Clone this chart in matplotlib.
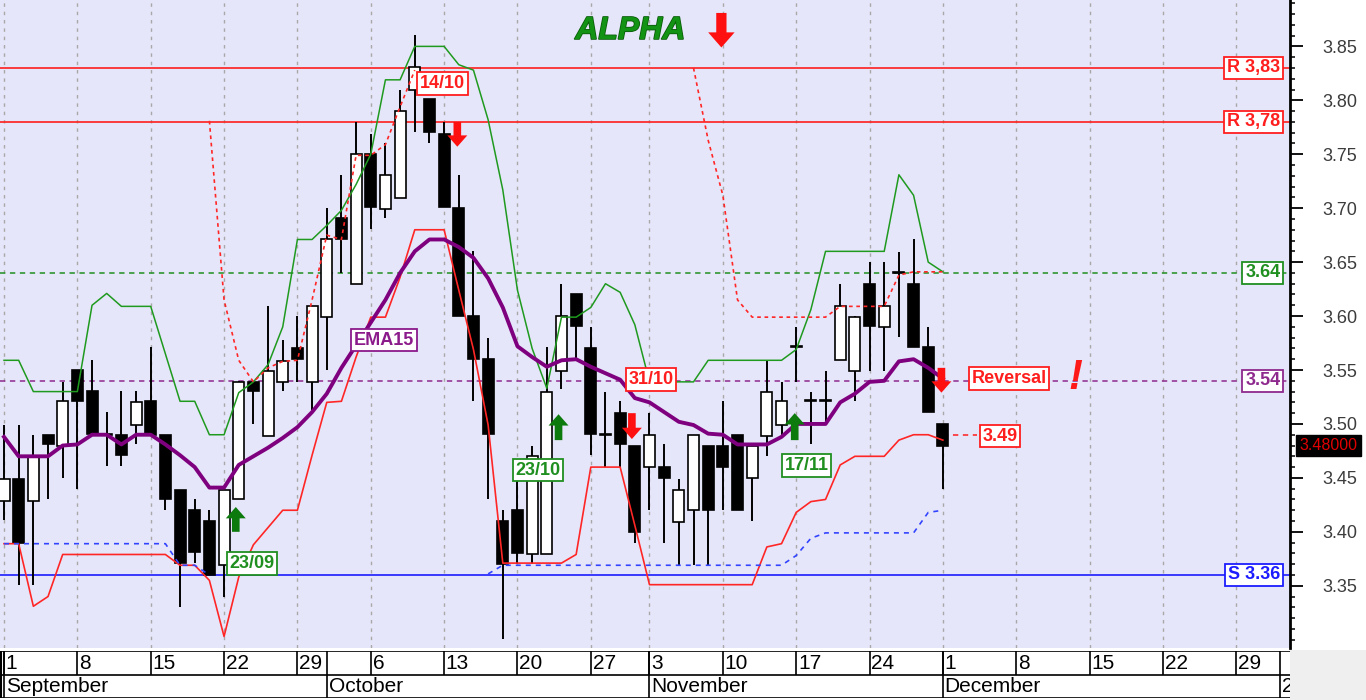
import numpy as np
import pandas as pd
import matplotlib
matplotlib.use('Agg')
import matplotlib.pyplot as plt
import matplotlib.patheffects as pe
from matplotlib.patches import FancyArrow, Rectangle
from matplotlib.ticker import FixedLocator

plt.rcParams['font.family'] = ['Liberation Sans', 'DejaVu Sans']

# trading days on the chart (no bar on 31 Oct), axis runs on into January
dates = pd.bdate_range('2014-09-01', '2014-12-01').drop(pd.Timestamp('2014-10-31'))
axis_days = pd.bdate_range('2014-09-01', '2015-01-01').drop(pd.Timestamp('2014-10-31'))

opens = [3.429, 3.449, 3.429, 3.490, 3.480, 3.550, 3.531, 3.491, 3.490, 3.499,
         3.521, 3.490, 3.439, 3.420, 3.410, 3.369, 3.430, 3.539, 3.489, 3.539,
         3.570, 3.539, 3.599, 3.691, 3.630, 3.750, 3.699, 3.709, 3.810, 3.801,
         3.769, 3.700, 3.600, 3.560, 3.410, 3.420, 3.379, 3.379, 3.549, 3.620,
         3.570, 3.491, 3.510, 3.480, 3.460, 3.460, 3.409, 3.420, 3.480, 3.480,
         3.490, 3.450, 3.489, 3.499, 3.572, 3.522, 3.522, 3.559, 3.549, 3.630,
         3.590, 3.641, 3.630, 3.571, 3.500]
highs = [3.499, 3.499, 3.490, 3.490, 3.539, 3.550, 3.559, 3.511, 3.531, 3.531,
         3.571, 3.490, 3.439, 3.430, 3.420, 3.439, 3.540, 3.540, 3.609, 3.578,
         3.600, 3.609, 3.700, 3.731, 3.780, 3.769, 3.760, 3.810, 3.861, 3.801,
         3.780, 3.731, 3.660, 3.580, 3.420, 3.456, 3.480, 3.571, 3.630, 3.620,
         3.590, 3.530, 3.521, 3.480, 3.510, 3.481, 3.449, 3.490, 3.480, 3.521,
         3.490, 3.480, 3.559, 3.539, 3.590, 3.530, 3.549, 3.630, 3.600, 3.650,
         3.650, 3.659, 3.671, 3.590, 3.500]
lows = [3.411, 3.351, 3.351, 3.430, 3.450, 3.440, 3.491, 3.461, 3.461, 3.481,
        3.490, 3.420, 3.330, 3.371, 3.360, 3.340, 3.430, 3.500, 3.489, 3.531,
        3.539, 3.513, 3.550, 3.640, 3.630, 3.681, 3.691, 3.709, 3.771, 3.760,
        3.701, 3.600, 3.521, 3.430, 3.301, 3.370, 3.370, 3.379, 3.532, 3.559,
        3.471, 3.460, 3.460, 3.390, 3.420, 3.390, 3.369, 3.369, 3.369, 3.420,
        3.420, 3.410, 3.470, 3.489, 3.539, 3.481, 3.499, 3.559, 3.521, 3.549,
        3.549, 3.581, 3.571, 3.511, 3.440]
closes = [3.449, 3.390, 3.470, 3.481, 3.521, 3.521, 3.491, 3.490, 3.471, 3.520,
          3.490, 3.430, 3.371, 3.381, 3.360, 3.439, 3.539, 3.531, 3.549, 3.558,
          3.560, 3.609, 3.671, 3.671, 3.750, 3.701, 3.731, 3.790, 3.831, 3.771,
          3.701, 3.600, 3.560, 3.491, 3.370, 3.380, 3.470, 3.530, 3.600, 3.591,
          3.491, 3.490, 3.481, 3.400, 3.490, 3.450, 3.439, 3.490, 3.420, 3.460,
          3.420, 3.480, 3.530, 3.521, 3.571, 3.521, 3.521, 3.609, 3.599, 3.591,
          3.609, 3.640, 3.571, 3.511, 3.480]

ema15 = [3.488, 3.470, 3.470, 3.470, 3.480, 3.481, 3.490, 3.490, 3.481, 3.490,
         3.490, 3.481, 3.471, 3.460, 3.441, 3.441, 3.462, 3.470, 3.478, 3.487,
         3.497, 3.511, 3.528, 3.552, 3.573, 3.594, 3.615, 3.640, 3.660, 3.671,
         3.671, 3.664, 3.654, 3.635, 3.608, 3.572, 3.562, 3.553, 3.559, 3.560,
         3.553, 3.547, 3.541, 3.524, 3.520, 3.511, 3.502, 3.499, 3.491, 3.490,
         3.481, 3.481, 3.481, 3.488, 3.500, 3.500, 3.500, 3.520, 3.528, 3.539,
         3.540, 3.558, 3.560, 3.552, 3.542]
upper_band = [3.559, 3.559, 3.530, 3.530, 3.530, 3.530, 3.610, 3.621, 3.609, 3.609,
              3.609, 3.565, 3.521, 3.521, 3.490, 3.490, 3.529, 3.539, 3.555, 3.590,
              3.671, 3.671, 3.684, 3.698, 3.722, 3.750, 3.819, 3.819, 3.850, 3.850,
              3.850, 3.833, 3.828, 3.782, 3.717, 3.624, 3.570, 3.533, 3.599, 3.599,
              3.608, 3.630, 3.622, 3.592, 3.539, 3.539, 3.539, 3.539, 3.559, 3.559,
              3.559, 3.559, 3.559, 3.559, 3.569, 3.606, 3.660, 3.660, 3.660, 3.660,
              3.660, 3.731, 3.712, 3.650, 3.641]
lower_band = [3.389, 3.389, 3.331, 3.340, 3.379, 3.379, 3.379, 3.379, 3.379, 3.379,
              3.379, 3.379, 3.369, 3.369, 3.355, 3.303, 3.358, 3.388, 3.404, 3.420,
              3.420, 3.471, 3.520, 3.521, 3.562, 3.599, 3.599, 3.636, 3.680, 3.680,
              3.680, 3.624, 3.569, 3.499, 3.371, 3.371, 3.371, 3.371, 3.371, 3.379,
              3.460, 3.460, 3.460, 3.406, 3.351, 3.351, 3.351, 3.351, 3.351, 3.351,
              3.351, 3.351, 3.386, 3.389, 3.418, 3.428, 3.430, 3.462, 3.470, 3.470,
              3.470, 3.485, 3.490, 3.490, 3.485]
N = None
stop_upper = [N] * 14 + [3.781, 3.615, 3.559, 3.539, 3.552, 3.558, 3.559, 3.615, 3.675,
                         3.671, 3.749, 3.749, 3.759, 3.794, 3.828] + [N] * 18 + \
             [3.830, 3.763, 3.712, 3.615, 3.599, 3.599, 3.599, 3.599, 3.599, 3.599,
              3.609, 3.609, 3.609, 3.609, 3.638, 3.641, 3.641, 3.641]
stop_lower = [3.389] * 12 + [3.369, 3.369, 3.360] + [N] * 18 + [3.361] + [3.369] * 20 + \
             [3.378, 3.394, 3.399, 3.399, 3.399, 3.399, 3.399, 3.399, 3.399, 3.418, 3.420]

levels_right = [('R 3,83', 3.83, '#ff1e1e', '-'), ('R 3,78', 3.78, '#ff1e1e', '-'),
                ('3.64', 3.64, '#1f8f1f', '--'), ('3.54', 3.54, '#8e2a8e', '--'),
                ('S 3.36', 3.36, '#1c1cff', '-')]
last_close = 3.48

x = np.arange(len(dates))
o, h, l, c = map(np.array, (opens, highs, lows, closes))
su = np.array(stop_upper, dtype=float)
sl = np.array(stop_lower, dtype=float)

fig = plt.figure(figsize=(13.66, 7.0), dpi=100)
fig.patches.append(Rectangle((1290 / 1366, 0), 76 / 1366, 50 / 700, transform=fig.transFigure,
                             fc='#efefef', ec='none'))
ax = fig.add_axes([0, 52 / 700, 1290 / 1366, 648 / 700])
ax.set_facecolor('#e6e6fa')
ax.set_xlim(-0.273, 87.66)
ax.set_ylim(3.2923, 3.893)

# weekly grid
week_idx = [i for i, d in enumerate(axis_days) if d.weekday() == 0]
for i in week_idx:
    ax.axvline(i, color='#a8a8a8', lw=1, ls=(0, (2.5, 3.5)), zorder=0)

# level lines
for txt, v, col, ls in levels_right:
    ax.axhline(v, color=col, lw=1.2 if ls == '-' else 1.1, ls=ls if ls == '-' else (0, (3.5, 3)), zorder=1)
    ax.text(87.0, v, txt, color=col, fontsize=13, fontweight='bold', ha='right', va='center', zorder=8,
            bbox=dict(boxstyle='square,pad=0.15', fc='white', ec=col, lw=1.3))
ax.plot([x[-1], 66.3], [3.49, 3.49], color='#ff1e1e', lw=1.1, ls=(0, (3.5, 3)), zorder=1)

# candles
ax.vlines(x, l, h, color='black', lw=1.4, zorder=2)
up = c >= o
ax.bar(x, np.abs(c - o), bottom=np.minimum(o, c), width=0.75,
       color=np.where(up, 'white', 'black'), edgecolor='black', lw=1.2, zorder=3)

# indicators
ax.plot(x, upper_band, color='#1f9a1f', lw=1.1, zorder=4)
ax.plot(x, lower_band, color='#ff2626', lw=1.2, zorder=4)
ax.plot(x, su, color='#ff2626', lw=1.2, ls=(0, (2.2, 2.2)), zorder=4)
ax.plot(x, sl, color='#3344ff', lw=1.2, ls=(0, (3, 3)), zorder=4)
ax.plot(x, ema15, color='#7f007f', lw=2.8, zorder=5, solid_joinstyle='round')


def box_label(xi, v, txt, col, size=13):
    ax.text(xi, v, txt, color=col, fontsize=size, fontweight='bold', ha='center', va='center', zorder=8,
            bbox=dict(boxstyle='square,pad=0.15', fc='white', ec=col, lw=1.3))


def arrow(xi, y0, y1, col, big=False):
    hw, w, hl = (1.8, 0.7, 0.014) if big else (1.36, 0.52, 0.0105)
    ax.add_patch(FancyArrow(xi, y0, 0, y1 - y0, width=w, head_width=hw, head_length=hl,
                            length_includes_head=True, color=col, lw=0, zorder=7))


box_label(29.9, 3.8156, '14/10', '#ff1e1e')
box_label(25.9, 3.5778, 'EMA15', '#8b1a8b')
box_label(16.9, 3.3707, '23/09', '#1f8f1f')
box_label(36.4, 3.4573, '23/10', '#1f8f1f')
box_label(44.1, 3.5412, '31/10', '#ff1e1e')
box_label(54.7, 3.4615, '17/11', '#1f8f1f')
box_label(68.5, 3.5422, 'Reversal', '#ff1e1e')
box_label(67.9, 3.4888, '3.49', '#ff1e1e')

arrow(48.9, 3.881, 3.849, '#ff1010', big=True)
arrow(30.9, 3.780, 3.757, '#ff1010')
arrow(42.8, 3.510, 3.486, '#ff1010')
arrow(63.9, 3.552, 3.529, '#ff1010')
arrow(15.8, 3.400, 3.423, '#0d7a0d')
arrow(37.8, 3.485, 3.509, '#0d7a0d')
arrow(53.9, 3.485, 3.510, '#0d7a0d')

ax.text(42.7, 3.8643, 'ALPHA', fontsize=23, fontweight='bold', fontstyle='italic', color='#139313',
        ha='center', va='center', zorder=8,
        path_effects=[pe.withStroke(linewidth=1.2, foreground='#0a5c0a')])
ax.text(73.0, 3.5426, '!', fontsize=30, fontweight='bold', fontstyle='italic', color='#ff1a1a',
        ha='center', va='center', zorder=8)

# right price axis
for s in ['top', 'left', 'bottom']:
    ax.spines[s].set_visible(False)
ax.spines['right'].set_linewidth(2)
ax.set_xticks([])
ax.yaxis.tick_right()
ax.yaxis.set_major_locator(FixedLocator(np.round(np.arange(3.35, 3.86, 0.05), 2)))
ax.yaxis.set_minor_locator(FixedLocator(np.round(np.arange(3.30, 3.895, 0.01), 2)))
ax.yaxis.set_major_formatter(matplotlib.ticker.FormatStrFormatter('%.2f'))
ax.tick_params(axis='y', which='major', length=9, width=1.3, pad=14, labelsize=13, labelcolor='#3c3c3c')
ax.tick_params(axis='y', which='minor', length=3.5, width=1.1)
ax.text(1.0075, last_close, '%.5f' % last_close, transform=ax.get_yaxis_transform(), ha='left', va='center',
        fontsize=11.5, color='#e00000', zorder=10, clip_on=False,
        bbox=dict(boxstyle='square,pad=0.2', fc='black', ec='black'))

# date bar
dax = fig.add_axes([0, 2 / 700, 1290 / 1366, 47 / 700])
dax.set_xlim(ax.get_xlim())
dax.set_ylim(0, 2)
dax.axis('off')
dfont = dict(family=['Liberation Sans Narrow', 'Liberation Sans'], fontsize=15, color='black')
month_idx = [i for i, d in enumerate(axis_days) if i == 0 or d.month != axis_days[i - 1].month]
dax.hlines([0.02, 1, 1.98], -0.273, 87.66, color='black', lw=1.2)
dax.vlines(-0.22, 0, 2, color='black', lw=1.5)
for i in week_idx:
    dax.vlines(i, 1, 2, color='black', lw=1.2)
    dax.text(i + 0.12, 1.47, str(axis_days[i].day), va='center', ha='left', **dfont)
for i in month_idx:
    dax.vlines(i, 0, 2, color='black', lw=1.2)
    lab = axis_days[i].strftime('%B') if axis_days[i].year == 2014 else '2015'
    dax.text(i + 0.12, 0.48, lab, va='center', ha='left', clip_on=True, **dfont)

fig.savefig('out.png', dpi=100, facecolor='white')
